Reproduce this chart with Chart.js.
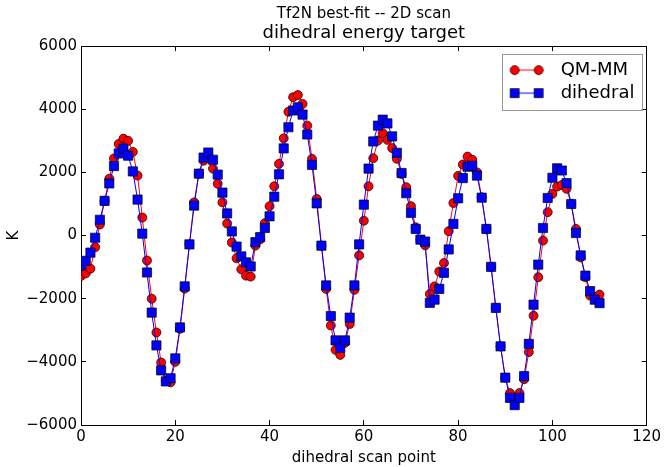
<!DOCTYPE html>
<html>
  <head>
    <meta charset="utf-8">
    <script src="https://cdn.jsdelivr.net/npm/chart.js"></script>
    <style>
      html, body { margin: 0; padding: 0; background: #fff; }
    </style>
  </head>
  <body>
    <canvas id="gura" width="669" height="467"></canvas>
    <script>
      // scan point index (x)
      const scanPoints = [
        0, 1, 2, 3, 4, 5, 6, 7, 8, 9, 10, 11, 12, 13, 14, 15, 16, 17, 18, 19,
        20, 21, 22, 23, 24, 25, 26, 27, 28, 29, 30, 31, 32, 33, 34, 35, 36, 37, 38, 39,
        40, 41, 42, 43, 44, 45, 46, 47, 48, 49, 50, 51, 52, 53, 54, 55, 56, 57, 58, 59,
        60, 61, 62, 63, 64, 65, 66, 67, 68, 69, 70, 71, 72, 73, 74, 75, 76, 77, 78, 79,
        80, 81, 82, 83, 84, 85, 86, 87, 88, 89, 90, 91, 92, 93, 94, 95, 96, 97, 98, 99,
        100, 101, 102, 103, 104, 105, 106, 107, 108, 109, 110
      ];
      // QM-MM energy (K)
      const qmmm = [
        -1280, -1200, -1050, -370, 350, 1100, 1800, 2440, 2900, 3070,
        3000, 2650, 1900, 570, -790, -2000, -3070, -4020, -4600, -4650,
        -4000, -2950, -1680, -280, 1050, 1960, 2370, 2550, 2120, 1640,
        1050, 380, -220, -720, -1070, -1270, -1300, -320, -120, 390,
        930, 1560, 2270, 3080, 3920, 4380, 4450, 4170, 3480, 2430,
        1160, -320, -1690, -2850, -3620, -3780, -3400, -2800, -1720, -630,
        470, 1560, 2450, 3010, 3240, 3030, 2770, 2430, 1950, 1530,
        930, 260, -130, -310, -1850, -1610, -1140, -870, 140, 1030,
        1890, 2250, 2500, 2400, 2000, 1210, 210, -990, -2290, -3510,
        -4500, -4990, -5150, -4990, -4550, -3690, -2540, -1320, -160, 740,
        1320, 1550, 1600, 1480, 1000, 210, -690, -1320, -1900, -1950,
        -1870
      ];
      // dihedral fit (K)
      const dihedral = [
        -950, -800, -540, -70, 500, 1100, 1650, 2200, 2600, 2750,
        2530, 2030, 1140, 60, -1170, -2440, -3480, -4270, -4620, -4520,
        -3890, -2910, -1610, -280, 950, 1960, 2470, 2630, 2400, 1930,
        1360, 700, 130, -350, -660, -850, -980, -210, -50, 240,
        610, 1230, 1940, 2760, 3430, 3960, 4060, 3830, 3200, 2240,
        1020, -320, -1580, -2550, -3320, -3560, -3320, -2600, -1580, -280,
        980, 2120, 2980, 3480, 3670, 3550, 3140, 2620, 1980, 1340,
        720, 210, -130, -190, -2130, -2030, -1690, -1180, -440, 370,
        1180, 1820, 2180, 2210, 1900, 1200, 210, -990, -2290, -3510,
        -4500, -5140, -5370, -5140, -4450, -3430, -2190, -920, 240, 1190,
        1830, 2130, 2060, 1660, 1000, 80, -630, -1270, -1760, -2030,
        -2140
      ];

      Chart.defaults.font.family = "'DejaVu Sans', sans-serif";
      Chart.defaults.color = '#000';

      // legend symbol: line with a marker at each end (matplotlib style)
      function makeIcon(color, shape) {
        const c = document.createElement('canvas');
        c.width = 36;
        c.height = 12;
        const g = c.getContext('2d');
        g.strokeStyle = color;
        g.lineWidth = 1;
        g.beginPath();
        g.moveTo(6, 6);
        g.lineTo(30, 6);
        g.stroke();
        g.fillStyle = color;
        g.strokeStyle = '#000';
        g.lineWidth = 0.7;
        [6, 30].forEach(function (cx) {
          g.beginPath();
          if (shape === 'circle') {
            g.arc(cx, 6, 4.5, 0, Math.PI * 2);
          } else {
            g.rect(cx - 4.5, 1.5, 9, 9);
          }
          g.fill();
          g.stroke();
        });
        return c;
      }
      const icons = [makeIcon('#ff0000', 'circle'), makeIcon('#0000ff', 'rect')];

      // put the legend in the upper right of the plot and draw its frame
      const legendBox = {
        id: 'legendBox',
        afterLayout(chart) {
          const lg = chart.legend;
          const w = lg.width, h = lg.height;
          lg.left = chart.chartArea.right - 150;
          lg.top = chart.chartArea.top + 10;
          lg.right = lg.left + w;
          lg.bottom = lg.top + h;
        },
        afterDraw(chart) {
          const lg = chart.legend;
          const c = chart.ctx;
          c.save();
          c.strokeStyle = '#999';
          c.lineWidth = 1;
          c.strokeRect(Math.round(lg.left + 5) + 0.5, Math.round(lg.top - 2) + 0.5, 140, 56);
          c.restore();
        }
      };

      function tickText(v) {
        return v < 0 ? '\u2212' + Math.abs(v) : String(v);
      }

      const tickGrid = { drawOnChartArea: false, tickLength: -5, color: '#000', lineWidth: 1 };
      const axisBorder = { color: '#000', width: 1 };

      const ctx = document.getElementById('gura').getContext('2d');
      new Chart(ctx, {
        type: 'scatter',
        data: {
          datasets: [
            {
              label: 'QM-MM',
              data: scanPoints.map((x, i) => ({ x: x, y: qmmm[i] })),
              showLine: true,
              borderColor: '#ff0000',
              backgroundColor: '#ff0000',
              borderWidth: 1,
              pointStyle: 'circle',
              pointRadius: 4.5,
              pointBackgroundColor: '#ff0000',
              pointBorderColor: '#000',
              pointBorderWidth: 0.7,
              order: 2
            },
            {
              label: 'dihedral',
              data: scanPoints.map((x, i) => ({ x: x, y: dihedral[i] })),
              showLine: true,
              borderColor: '#0000ff',
              backgroundColor: '#0000ff',
              borderWidth: 1,
              pointStyle: 'rect',
              pointRadius: 6.5,
              pointBackgroundColor: '#0000ff',
              pointBorderColor: '#000',
              pointBorderWidth: 0.7,
              order: 1
            }
          ]
        },
        options: {
          responsive: false,
          animation: false,
          layout: { padding: { left: 0, right: 17, top: 0, bottom: 0 } },
          plugins: {
            tooltip: { enabled: false },
            subtitle: {
              display: true,
              text: 'Tf2N best-fit -- 2D scan',
              weight: 2500,
              fullSize: false,
              color: '#000',
              font: { size: 15, weight: 'normal' },
              padding: { top: 5, bottom: 0 }
            },
            title: {
              display: true,
              text: 'dihedral energy target',
              fullSize: false,
              color: '#000',
              font: { size: 18, weight: 'normal' },
              padding: { top: 0, bottom: 1.5 }
            },
            legend: {
              display: true,
              position: 'chartArea',
              align: 'start',
              labels: {
                usePointStyle: true,
                pointStyleWidth: 50,
                padding: 5,
                color: '#000',
                font: { size: 18 },
                sort: (a, b) => a.datasetIndex - b.datasetIndex,
                generateLabels: (chart) => Chart.defaults.plugins.legend.labels.generateLabels(chart).map(l => {
                  l.pointStyle = icons[l.datasetIndex];
                  return l;
                })
              }
            }
          },
          scales: {
            x: {
              type: 'linear',
              position: 'bottom',
              min: 0,
              max: 120,
              afterFit: (s) => { s.height = 42; },
              ticks: { stepSize: 20, padding: 8, color: '#000', font: { size: 15 }, maxRotation: 0 },
              grid: tickGrid,
              border: axisBorder,
              title: { display: true, text: 'dihedral scan point', color: '#000', font: { size: 15 }, padding: { top: 0, bottom: 0 } }
            },
            y: {
              type: 'linear',
              position: 'left',
              min: -6000,
              max: 6000,
              afterFit: (s) => { s.width = 81; },
              ticks: { stepSize: 2000, padding: 9, color: '#000', font: { size: 15 }, callback: tickText },
              grid: tickGrid,
              border: axisBorder,
              title: { display: true, text: 'K', color: '#000', font: { size: 15 }, padding: { top: 5, bottom: 0 } }
            },
            x2: {
              type: 'linear',
              position: 'top',
              min: 0,
              max: 120,
              afterFit: (s) => { s.height = 0; },
              ticks: { stepSize: 20, display: false },
              grid: tickGrid,
              border: axisBorder
            },
            y2: {
              type: 'linear',
              position: 'right',
              min: -6000,
              max: 6000,
              afterFit: (s) => { s.width = 0; },
              ticks: { stepSize: 2000, display: false },
              grid: tickGrid,
              border: axisBorder
            }
          }
        },
        plugins: [legendBox]
      });
    </script>
  </body>
</html>
